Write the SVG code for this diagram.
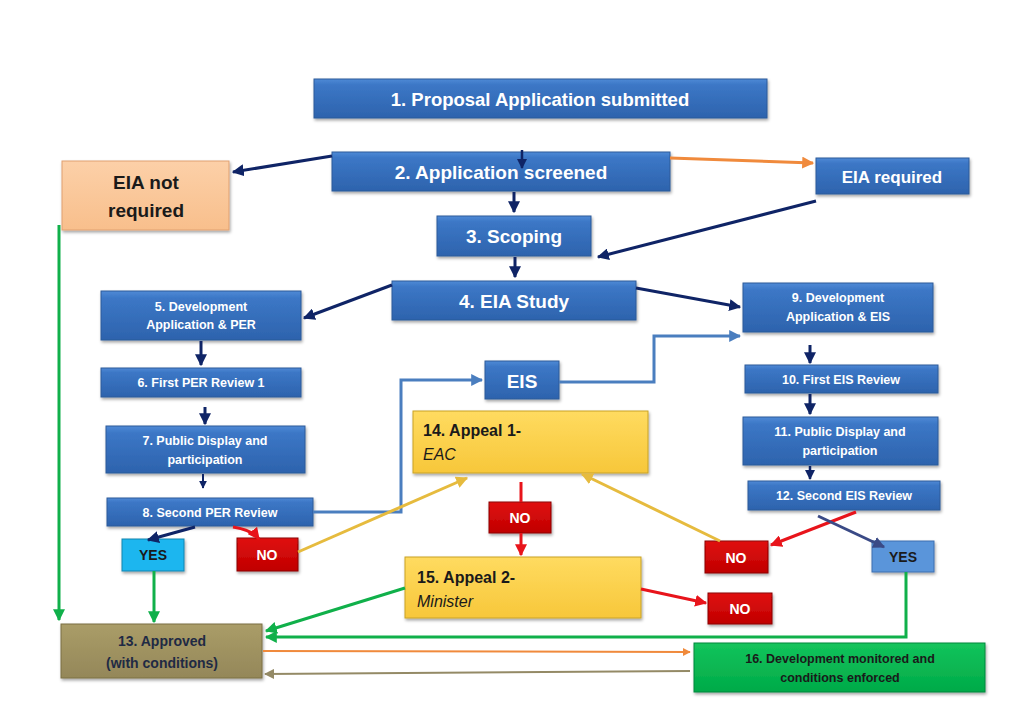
<svg xmlns="http://www.w3.org/2000/svg" width="1024" height="709" viewBox="0 0 1024 709">
<style>
text{font-family:"Liberation Sans",Arial,sans-serif;font-weight:bold;text-anchor:middle;}
.w{fill:#ffffff;}
.d{fill:#1a1a1a;}
.n{fill:#1f2a44;}
.blue{fill:url(#gb);stroke:#2c5a99;stroke-width:1;filter:url(#sh);}
.peach{fill:url(#gp);stroke:#e0a070;stroke-width:1;filter:url(#sh);}
.yel{fill:url(#gy);stroke:#c9a227;stroke-width:1;filter:url(#sh);}
.red{fill:url(#gr);stroke:#8b0000;stroke-width:1;filter:url(#sh);}
.olive{fill:url(#go);stroke:#7a6f44;stroke-width:1;filter:url(#sh);}
.green{fill:url(#gg);stroke:#00873c;stroke-width:1;filter:url(#sh);}
.cyan{fill:#1cb6ef;stroke:#1485b0;stroke-width:1;filter:url(#sh);}
.lblue{fill:#5a95da;stroke:#3d6fb0;stroke-width:1;filter:url(#sh);}
.c{fill:none;stroke-width:3;}
.navy{stroke:#0f2466;marker-end:url(#mN);}
.org{stroke:#f08a3c;marker-end:url(#mO);}
.blu{stroke:#4a7ebf;marker-end:url(#mB);}
.rd{stroke:#e8141b;marker-end:url(#mR);}
.gold{stroke:#e6bb3e;marker-end:url(#mG);}
.grn{stroke:#10b04a;marker-end:url(#mGr);}
.olv{stroke:#948a66;marker-end:url(#mOl);}
.slate{stroke:#3a4a86;marker-end:url(#mS);}
</style>
<defs>
<filter id="sh" x="-10%" y="-10%" width="125%" height="140%"><feDropShadow dx="1" dy="2" stdDeviation="1.5" flood-color="#000" flood-opacity="0.35"/></filter>
<linearGradient id="gb" x1="0" y1="0" x2="0" y2="1"><stop offset="0" stop-color="#4f8ad6"/><stop offset="0.15" stop-color="#3c77c6"/><stop offset="1" stop-color="#2d63ad"/></linearGradient>
<linearGradient id="gp" x1="0" y1="0" x2="0" y2="1"><stop offset="0" stop-color="#fcd0a8"/><stop offset="1" stop-color="#f8bf8c"/></linearGradient>
<linearGradient id="gy" x1="0" y1="0" x2="0" y2="1"><stop offset="0" stop-color="#ffdb60"/><stop offset="1" stop-color="#f7c73a"/></linearGradient>
<linearGradient id="gr" x1="0" y1="0" x2="0" y2="1"><stop offset="0" stop-color="#e01010"/><stop offset="1" stop-color="#c00000"/></linearGradient>
<linearGradient id="go" x1="0" y1="0" x2="0" y2="1"><stop offset="0" stop-color="#aa9d68"/><stop offset="1" stop-color="#948759"/></linearGradient>
<linearGradient id="gg" x1="0" y1="0" x2="0" y2="1"><stop offset="0" stop-color="#14c45c"/><stop offset="1" stop-color="#00aa48"/></linearGradient>
<marker id="mN" viewBox="0 0 10 10" refX="9" refY="5" markerWidth="4" markerHeight="4" orient="auto"><path d="M0,0L10,5L0,10z" fill="#0f2466"/></marker>
<marker id="mO" viewBox="0 0 10 10" refX="9" refY="5" markerWidth="4" markerHeight="4" orient="auto"><path d="M0,0L10,5L0,10z" fill="#f08a3c"/></marker>
<marker id="mB" viewBox="0 0 10 10" refX="9" refY="5" markerWidth="4" markerHeight="4" orient="auto"><path d="M0,0L10,5L0,10z" fill="#4a7ebf"/></marker>
<marker id="mR" viewBox="0 0 10 10" refX="9" refY="5" markerWidth="4" markerHeight="4" orient="auto"><path d="M0,0L10,5L0,10z" fill="#e8141b"/></marker>
<marker id="mG" viewBox="0 0 10 10" refX="9" refY="5" markerWidth="4" markerHeight="4" orient="auto"><path d="M0,0L10,5L0,10z" fill="#e6bb3e"/></marker>
<marker id="mGr" viewBox="0 0 10 10" refX="9" refY="5" markerWidth="4" markerHeight="4" orient="auto"><path d="M0,0L10,5L0,10z" fill="#10b04a"/></marker>
<marker id="mOl" viewBox="0 0 10 10" refX="9" refY="5" markerWidth="5" markerHeight="5" orient="auto"><path d="M0,0L10,5L0,10z" fill="#948a66"/></marker>
<marker id="mS" viewBox="0 0 10 10" refX="9" refY="5" markerWidth="4" markerHeight="4" orient="auto"><path d="M0,0L10,5L0,10z" fill="#3a4a86"/></marker>
</defs>
<rect width="1024" height="709" fill="#ffffff"/>

<g id="n1"><rect class="blue" x="314" y="79" width="453" height="39"/><text class="w" x="540" y="106" font-size="18.5">1. Proposal Application submitted</text></g>
<g id="n2"><rect class="blue" x="332" y="152" width="338" height="39"/><text class="w" x="501" y="179" font-size="19">2. Application screened</text></g>
<g id="eia-not"><rect class="peach" x="62" y="161" width="167" height="69"/><text class="d" x="146" y="189" font-size="19">EIA not</text><text class="d" x="146" y="217" font-size="19">required</text></g>
<g id="eia-req"><rect class="blue" x="816" y="158" width="153" height="36"/><text class="w" x="892" y="183" font-size="17">EIA required</text></g>
<g id="n3"><rect class="blue" x="437" y="216" width="154" height="40"/><text class="w" x="514" y="243" font-size="19">3. Scoping</text></g>
<g id="n4"><rect class="blue" x="392" y="281" width="244" height="39"/><text class="w" x="514" y="308" font-size="19">4. EIA Study</text></g>
<g id="n5"><rect class="blue" x="101" y="291" width="200" height="49"/><text class="w" x="201" y="311" font-size="12.5">5. Development</text><text class="w" x="201" y="329" font-size="12.5">Application &amp; PER</text></g>
<g id="n9"><rect class="blue" x="743" y="283" width="190" height="49"/><text class="w" x="838" y="302" font-size="12.5">9. Development</text><text class="w" x="838" y="321" font-size="12.5">Application &amp; EIS</text></g>
<g id="n6"><rect class="blue" x="101" y="368" width="200" height="29"/><text class="w" x="201" y="387" font-size="12.5">6. First PER Review 1</text></g>
<g id="eis"><rect class="blue" x="485" y="361" width="74" height="38"/><text class="w" x="522" y="388" font-size="19">EIS</text></g>
<g id="n10"><rect class="blue" x="745" y="365" width="193" height="28"/><text class="w" x="841" y="384" font-size="12.5">10. First EIS Review</text></g>
<g id="n14"><rect class="yel" x="413" y="411" width="235" height="62"/><text class="d" x="423" y="436" font-size="16" style="text-anchor:start">14. Appeal 1-</text><text class="d" x="423" y="460" font-size="16" style="text-anchor:start;font-weight:normal;font-style:italic">EAC</text></g>
<g id="n7"><rect class="blue" x="106" y="426" width="199" height="47"/><text class="w" x="205" y="445" font-size="12.5">7. Public Display and</text><text class="w" x="205" y="464" font-size="12.5">participation</text></g>
<g id="n11"><rect class="blue" x="743" y="417" width="195" height="48"/><text class="w" x="840" y="436" font-size="12.5">11. Public Display and</text><text class="w" x="840" y="455" font-size="12.5">participation</text></g>
<g id="n8"><rect class="blue" x="107" y="498" width="206" height="28"/><text class="w" x="210" y="517" font-size="12.5">8. Second PER Review</text></g>
<g id="n12"><rect class="blue" x="748" y="481" width="192" height="29"/><text class="w" x="844" y="500" font-size="12.5">12. Second EIS Review</text></g>
<g id="no-mid"><rect class="red" x="489" y="502" width="62" height="31"/><text class="w" x="520" y="523" font-size="14">NO</text></g>
<g id="yes-left"><rect class="cyan" x="122" y="539" width="62" height="32"/><text class="d" x="153" y="560" font-size="14">YES</text></g>
<g id="no-left"><rect class="red" x="237" y="538" width="61" height="33"/><text class="w" x="267" y="560" font-size="14">NO</text></g>
<g id="no-right"><rect class="red" x="705" y="541" width="63" height="32"/><text class="w" x="736" y="563" font-size="14">NO</text></g>
<g id="yes-right"><rect class="lblue" x="872" y="541" width="62" height="31"/><text class="d" x="903" y="562" font-size="14">YES</text></g>
<g id="n15"><rect class="yel" x="405" y="557" width="236" height="61"/><text class="d" x="417" y="583" font-size="16" style="text-anchor:start">15. Appeal 2-</text><text class="d" x="417" y="607" font-size="16" style="text-anchor:start;font-weight:normal;font-style:italic">Minister</text></g>
<g id="no-bottom"><rect class="red" x="708" y="593" width="64" height="31"/><text class="w" x="740" y="614" font-size="14">NO</text></g>
<g id="n13"><rect class="olive" x="61" y="624" width="201" height="54"/><text class="n" x="162" y="646" font-size="14">13. Approved</text><text class="n" x="162" y="668" font-size="14">(with conditions)</text></g>
<g id="n16"><rect class="green" x="694" y="643" width="291" height="49"/><text class="d" x="840" y="663" font-size="12.5">16. Development monitored and</text><text class="d" x="840" y="682" font-size="12.5">conditions enforced</text></g>

<g id="connectors">
<path class="c navy" d="M522,150 L522,168" style="stroke-width:2.5"/>
<path class="c navy" d="M332,156 L233,172"/>
<path class="c org" d="M670,158 L813,163"/>
<path class="c navy" d="M514,192 L514,212"/>
<path class="c navy" d="M816,201 L598,257"/>
<path class="c navy" d="M515,257 L515,277"/>
<path class="c navy" d="M392,285 L304,318"/>
<path class="c navy" d="M636,288 L740,307"/>
<path class="c blu" d="M559,382 L654,382 L654,336 L740,336"/>
<path class="c blu" d="M313,512 L401,512 L401,380 L482,380"/>
<path class="c navy" d="M201,341 L201,365"/>
<path class="c navy" d="M205,407 L205,424"/>
<path class="c navy" d="M203,474 L203,488" style="stroke-width:2"/>
<path class="c navy" d="M810,345 L810,363"/>
<path class="c navy" d="M810,394 L810,414"/>
<path class="c navy" d="M810,466 L810,479" style="stroke-width:2.5"/>
<path class="c navy" d="M195,527 L148,540"/>
<path class="c rd" d="M233,527 Q252,530 259,539"/>
<path class="c gold" d="M298,552 L467,478"/>
<path class="c" d="M521,482 L521,502" stroke="#e8141b"/>
<path class="c rd" d="M521,533 L521,555"/>
<path class="c gold" d="M720,541 L582,474"/>
<path class="c rd" d="M856,512 L771,545"/>
<path class="c slate" d="M818,516 L884,547"/>
<path class="c grn" d="M906,572 L906,637 L266,637"/>
<path class="c grn" d="M405,588 L266,631"/>
<path class="c rd" d="M641,589 L706,603"/>
<path class="c grn" d="M59,225 L59,620"/>
<path class="c grn" d="M154,571 L154,622"/>
<path class="c org" d="M263,651 L690,652" style="stroke-width:2"/>
<path class="c olv" d="M690,671 L265,674" style="stroke-width:2"/>
</g>
</svg>
